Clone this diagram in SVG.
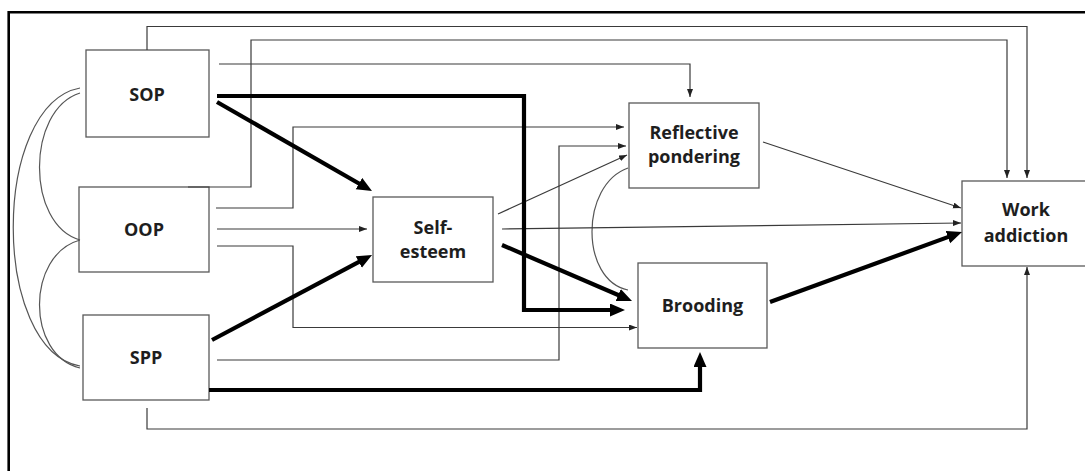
<svg xmlns="http://www.w3.org/2000/svg" width="1085" height="471" viewBox="0 0 1085 471">
<style>
.box{fill:#fff;stroke:#595959;stroke-width:1.3}
.lbl{font-family:"Open Sans","Noto Sans","Liberation Sans",sans-serif;font-weight:bold;font-size:18px;fill:#1e1e1e;text-anchor:middle}
.thin{fill:none;stroke:#3a3a3a;stroke-width:1.2}
.cov{fill:none;stroke:#555;stroke-width:1.2}
.thick{fill:none;stroke:#000;stroke-width:4.2}
.frame{fill:none;stroke:#000;stroke-width:2.6}
</style>
<defs>
<marker id="a" markerUnits="userSpaceOnUse" markerWidth="9" markerHeight="7" refX="8" refY="3" orient="auto">
<path d="M0,0 L8,3 L0,6 z" fill="#222"/>
</marker>
<marker id="A" markerUnits="userSpaceOnUse" markerWidth="16" markerHeight="14" refX="5" refY="6.5" orient="auto">
<path d="M0,0 L15,6.5 L0,13 z" fill="#000"/>
</marker>
</defs>
<rect width="1085" height="471" fill="#fff"/>
<path class="frame" d="M8.7,471 V12.3 H1085"/>
<g id="nodes">
<g id="SOP"><rect class="box" x="86" y="50" width="123" height="87"/><text class="lbl" x="147" y="101">SOP</text></g>
<g id="OOP"><rect class="box" x="79" y="187" width="130" height="85"/><text class="lbl" x="144" y="236">OOP</text></g>
<g id="SPP"><rect class="box" x="83" y="315" width="126" height="85"/><text class="lbl" x="146" y="364">SPP</text></g>
<g id="SelfEsteem"><rect class="box" x="373" y="197" width="120" height="85"/><text class="lbl" x="433" y="234">Self-</text><text class="lbl" x="433" y="258">esteem</text></g>
<g id="Reflective"><rect class="box" x="629" y="103" width="130" height="85"/><text class="lbl" x="694" y="139">Reflective</text><text class="lbl" x="694" y="163">pondering</text></g>
<g id="Brooding"><rect class="box" x="638" y="263" width="129" height="85"/><text class="lbl" x="702.5" y="312">Brooding</text></g>
<g id="WorkAddiction"><rect class="box" x="962" y="181" width="130" height="85"/><text class="lbl" x="1026" y="216">Work</text><text class="lbl" x="1026" y="242">addiction</text></g>
</g>
<g id="connectors">
<!-- covariances -->
<path class="cov" d="M80,93 C26,110 26,225 80,240"/>
<path class="cov" d="M80,240 C26,255 26,355 80,368"/>
<path class="cov" d="M80,88 C-9,105 -9,350 80,366"/>
<path class="cov" d="M628,168 C580,185 580,280 628,290"/>
<!-- thin paths -->
<path class="thin" d="M147,50 V26.5 H1027 V178" marker-end="url(#a)"/>
<path class="thin" d="M188,187 H251 V40 H1007 V178" marker-end="url(#a)"/>
<path class="thin" d="M219,64 H690 V97" marker-end="url(#a)"/>
<path class="thin" d="M216,208 H293 V127 H624" marker-end="url(#a)"/>
<path class="thin" d="M217,229 H367" marker-end="url(#a)"/>
<path class="thin" d="M217,246 H293 V327.5 H637" marker-end="url(#a)"/>
<path class="thin" d="M217,360 H559 V146 H626" marker-end="url(#a)"/>
<path class="thin" d="M147,408 V429 H1027 V267" marker-end="url(#a)"/>
<path class="thin" d="M498,214 L627,155" marker-end="url(#a)"/>
<path class="thin" d="M502,229 L961,223" marker-end="url(#a)"/>
<path class="thin" d="M763,142 L961,208" marker-end="url(#a)"/>
<!-- thick paths -->
<path class="thick" d="M217,96 H524 V310 H615" marker-end="url(#A)"/>
<path class="thick" d="M217,102 L363.3,186" marker-end="url(#A)"/>
<path class="thick" d="M212,340 L363.2,259.7" marker-end="url(#A)"/>
<path class="thick" d="M502,245 L622.8,297" marker-end="url(#A)"/>
<path class="thick" d="M770,302 L952.6,235.4" marker-end="url(#A)"/>
<path class="thick" d="M209,390 H700 V362" marker-end="url(#A)"/>
</g>
</svg>
